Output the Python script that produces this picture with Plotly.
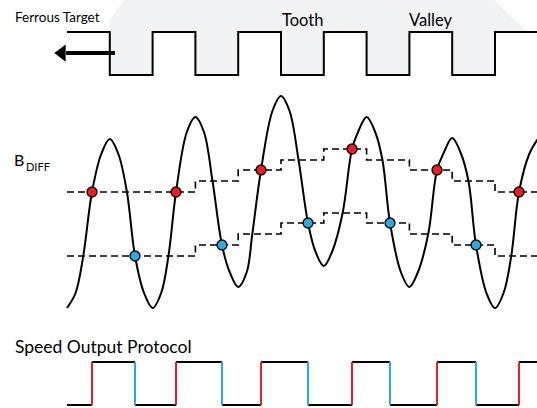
import plotly.graph_objects as go

# ---------------- data (x in half-tooth-pitch units, t) ----------------
# Ferrous target profile: 1 = valley surface, 0 = tooth tip, per half-pitch segment
TARGET_SEG_START = [0, 1, 2, 3, 4, 5, 6, 7, 8, 9, 10, 11]
TARGET_LEVEL = [1, 0, 1, 0, 1, 0, 1, 0, 1, 0, 1, 1]

# B_DIFF extremes (troughs / peaks), arbitrary field units
EXTREME_T = [0, 1, 2, 3, 4, 5, 6, 7, 8, 9, 10, 11]
EXTREME_B = [-85, 84, -85, 106, -64, 127, -43, 106, -64, 85, -85, 84]

# points on the rounded shoulders next to each extreme
SHOULDER_T = [0.2, 0.8, 1.2, 1.8, 2.2, 2.8, 3.2, 3.8, 4.2, 4.8, 5.2, 5.8, 6.2,
              6.8, 7.2, 7.8, 8.2, 8.8, 9.2, 9.8, 10.2, 10.8]
SHOULDER_B = [-70, 69, 69, -70, -70, 91, 91, -49, -49, 112, 112, -28, -28,
              91, 91, -49, -49, 70, 70, -70, -70, 69]

# other points where B_DIFF crosses the dashed thresholds
CROSS_T = [0.38, 1.40, 2.37, 3.40, 4.33, 5.41, 6.44, 7.37, 8.44, 9.38, 10.38]
CROSS_B = [-33, 31, -33, 42, -11, 63, 10, 63, -11, 42, -33]

# switching points: red = rising crossing of upper threshold, blue = falling crossing of lower
RED_T = [0.584, 2.547, 4.533, 6.659, 8.645, 10.561]
RED_B = [31, 31, 53, 74, 53, 31]
BLUE_T = [1.589, 3.621, 5.631, 7.547, 9.556]
BLUE_B = [-33, -22, 0, 0, -22]

# adaptive thresholds (step per half-pitch)
THR_T = [0, 3, 4, 5, 6, 7, 8, 9, 10, 11]
UPPER_THR = [31, 42, 53, 63, 74, 63, 53, 42, 31, 31]
LOWER_THR = [-33, -22, -11, 0, 10, 0, -11, -22, -33, -33]

# direction-of-motion arrow (tail, head) in t units
ARROW_T = [1.12, -0.02]
ARROW_LEVEL = 0.51

# ---------------- styles ----------------
RED = "#ed1c24"
BLUE = "#29abe2"
FONT = "Lato"

# axis ranges (pixel layout of the diagram)
X_RANGE = [-67 / 42.8, 470 / 42.8]
B_RANGE = [-185, 223]
TGT_RANGE = [-333 / 43, 75 / 43]
OUT_RANGE = [-3 / 43, 405 / 43]

fig = go.Figure()

# gray target body (decorative outline built around the profile)
body_x = [1.35, 1.0]
body_y = [TGT_RANGE[1], 1.3]
for i in range(1, 10):
    body_x += [TARGET_SEG_START[i], TARGET_SEG_START[i]]
    body_y += [TARGET_LEVEL[i - 1], TARGET_LEVEL[i]] if i > 1 else [1.3, TARGET_LEVEL[i]]
body_x += [10, 10, 10.76, 9.97]
body_y += [0, 1, 1, TGT_RANGE[1]]
fig.add_trace(go.Scatter(x=body_x, y=body_y, yaxis="y2", fill="toself",
                         fillcolor="#f2f3f5", line=dict(width=0), mode="lines",
                         hoverinfo="skip", showlegend=False))

# target profile line
fig.add_trace(go.Scatter(x=TARGET_SEG_START, y=TARGET_LEVEL, yaxis="y2",
                         mode="lines", line=dict(color="black", width=2, shape="hv"),
                         showlegend=False))

# arrow (shaft + head)
fig.add_trace(go.Scatter(x=ARROW_T, y=[ARROW_LEVEL, ARROW_LEVEL], yaxis="y2", mode="lines",
                         line=dict(color="black", width=4), showlegend=False))
fig.add_trace(go.Scatter(x=[ARROW_T[1] - 0.1], y=[ARROW_LEVEL], yaxis="y2", mode="markers",
                         marker=dict(symbol="triangle-left", size=15, color="black",
                                     line=dict(width=0)), showlegend=False))

# thresholds
for vals in (UPPER_THR, LOWER_THR):
    fig.add_trace(go.Scatter(x=THR_T, y=vals, mode="lines",
                             line=dict(color="black", width=1.6, shape="hv", dash="7px,4px"),
                             showlegend=False))

# B_DIFF curve
pts = sorted(list(zip(EXTREME_T, EXTREME_B)) + list(zip(SHOULDER_T, SHOULDER_B)) +
             list(zip(CROSS_T, CROSS_B)) +
             list(zip(RED_T, RED_B)) + list(zip(BLUE_T, BLUE_B)))
fig.add_trace(go.Scatter(x=[p[0] for p in pts], y=[p[1] for p in pts], mode="lines",
                         line=dict(color="black", width=2, shape="spline", smoothing=1.0),
                         showlegend=False))

# switching dots
fig.add_trace(go.Scatter(x=RED_T, y=RED_B, mode="markers",
                         marker=dict(size=10, color=RED, line=dict(color="black", width=1.3)),
                         showlegend=False))
fig.add_trace(go.Scatter(x=BLUE_T, y=BLUE_B, mode="markers",
                         marker=dict(size=10, color=BLUE, line=dict(color="black", width=1.3)),
                         showlegend=False))

# speed output protocol derived from switching points
events = sorted([(t, 1) for t in RED_T] + [(t, 0) for t in BLUE_T])
hx, hy, rx, ry, bx, by = [], [], [], [], [], []
prev_t, level = 0, 0
for t, new in events:
    hx += [prev_t, t, None]
    hy += [level, level, None]
    if new == 1:
        rx += [t, t, None]; ry += [level, new, None]
    else:
        bx += [t, t, None]; by += [level, new, None]
    prev_t, level = t, new
hx += [prev_t, EXTREME_T[-1]]
hy += [level, level]
fig.add_trace(go.Scatter(x=hx, y=hy, yaxis="y3", mode="lines",
                         line=dict(color="black", width=2), showlegend=False))
fig.add_trace(go.Scatter(x=rx, y=ry, yaxis="y3", mode="lines",
                         line=dict(color=RED, width=2), showlegend=False))
fig.add_trace(go.Scatter(x=bx, y=by, yaxis="y3", mode="lines",
                         line=dict(color=BLUE, width=2), showlegend=False))

ann = [
    dict(text="Ferrous Target", x=13 / 537, y=1 - 17 / 408, xref="paper", yref="paper",
         xanchor="left", yanchor="middle", showarrow=False, font=dict(size=13.5)),
    dict(text="Tooth", x=5.5, y=1.28, xref="x", yref="y2", showarrow=False,
         xanchor="center", yanchor="middle", font=dict(size=16.5)),
    dict(text="Valley", x=8.5, y=1.28, xref="x", yref="y2", showarrow=False,
         xanchor="center", yanchor="middle", font=dict(size=16.5)),
    dict(text="B", x=12 / 537, y=1 - 160 / 408, xref="paper", yref="paper",
         xanchor="left", yanchor="middle", showarrow=False, font=dict(size=16)),
    dict(text="DIFF", x=24 / 537, y=1 - 166 / 408, xref="paper", yref="paper",
         xanchor="left", yanchor="middle", showarrow=False, font=dict(size=11)),
    dict(text="Speed Output Protocol", x=13 / 537, y=1 - 346 / 408, xref="paper", yref="paper",
         xanchor="left", yanchor="middle", showarrow=False, font=dict(size=17.5)),
]

hidden = dict(visible=False, showgrid=False, zeroline=False, fixedrange=True)
fig.update_layout(
    width=537, height=408, margin=dict(l=0, r=0, t=0, b=0),
    paper_bgcolor="white", plot_bgcolor="rgba(0,0,0,0)",
    font=dict(family=FONT, color="black"),
    xaxis=dict(range=X_RANGE, domain=[0, 1], **hidden),
    yaxis=dict(range=B_RANGE, domain=[0, 1], **hidden),
    yaxis2=dict(range=TGT_RANGE, overlaying="y", **hidden),
    yaxis3=dict(range=OUT_RANGE, overlaying="y", **hidden),
    annotations=ann, showlegend=False,
)

fig.write_html("out.html", config={"displayModeBar": False},
               post_script="document.body.style.margin='0';document.body.style.overflow='hidden';")
